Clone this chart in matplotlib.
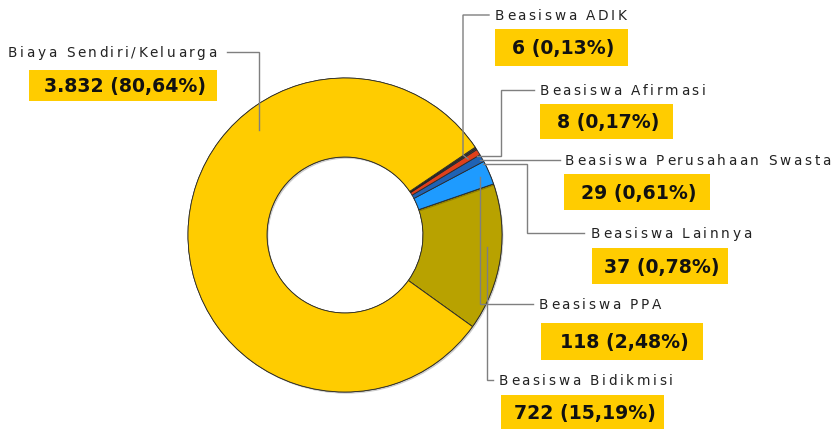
import matplotlib
matplotlib.use('Agg')
import matplotlib.pyplot as plt
import matplotlib.patheffects as pe
from matplotlib.patches import Rectangle
from matplotlib.font_manager import FontProperties

# data (counter-clockwise from the lower edge of Bidikmisi)
categories = ['Beasiswa Bidikmisi', 'Beasiswa PPA', 'Beasiswa Lainnya',
              'Beasiswa Perusahaan Swasta', 'Beasiswa Afirmasi',
              'Beasiswa ADIK', 'Biaya Sendiri/Keluarga']
counts = [722, 118, 37, 29, 8, 6, 3832]
colors = ['#B8A200', '#1E9BFF', '#1F62B4', '#E0401A', '#4A4A4A',
          '#9A9A9A', '#FFCC00']

W, H = 831, 429
YELLOW = '#FFCC00'
LINE = '#7F7F7F'


def Y(y):
    # pixel row (top origin) -> data y
    return H - y


fig = plt.figure(figsize=(W / 100, H / 100), dpi=100)
ax = fig.add_axes([0, 0, 1, 1])

# donut
wedges, _ = ax.pie(counts, colors=colors, startangle=-35.7, counterclock=True,
                   center=(345, Y(235)), radius=157,
                   wedgeprops=dict(width=79, edgecolor='#2b2b2b', linewidth=0.6))
for w, n in zip(wedges, counts):
    if n > 100:
        w.set_path_effects([pe.withSimplePatchShadow(offset=(1.0, -1.2),
                                                     shadow_rgbFace='#000000',
                                                     alpha=0.2), pe.Normal()])

ax.set_xlim(0, W)
ax.set_ylim(0, H)
ax.set_aspect('auto')
ax.axis('off')

renderer = fig.canvas.get_renderer()
lab_fp = FontProperties(family='DejaVu Sans', size=9.8)
val_fp = FontProperties(family='DejaVu Sans', size=13.6, weight='bold')


def char_width(ch, fp):
    w1 = renderer.get_text_width_height_descent('x' + ch + 'x', fp, ismath=False)[0]
    w0 = renderer.get_text_width_height_descent('xx', fp, ismath=False)[0]
    return w1 - w0


def spaced_text(x, y, s, spacing=2.6):
    # letter-spaced label, y is the vertical middle of capitals
    cx = x
    for ch in s:
        if ch != ' ':
            ax.text(cx, Y(y + 5), ch, fontproperties=lab_fp, color='#222222',
                    ha='left', va='baseline')
        cx += char_width(ch, lab_fp) + spacing


# label anchors: text left/middle, value box (x0, y0, x1, y1), leader polyline
layout = {
    'Biaya Sendiri/Keluarga': ((8, 52), (29, 70, 217, 101),
                               [(227, 52), (259, 52), (259, 130)]),
    'Beasiswa ADIK': ((495, 15), (495, 29, 628, 66),
                      [(489, 15), (463, 15), (463, 155), (468, 159)]),
    'Beasiswa Afirmasi': ((540, 90), (540, 104, 673, 139),
                          [(534, 90), (501, 90), (501, 156), (477, 156)]),
    'Beasiswa Perusahaan Swasta': ((565, 160), (564, 174, 710, 210),
                                   [(560, 160), (480, 160)]),
    'Beasiswa Lainnya': ((591, 233), (592, 248, 728, 284),
                         [(584, 233), (527, 233), (527, 164), (483, 164)]),
    'Beasiswa PPA': ((539, 304), (541, 323, 703, 360),
                     [(533, 304), (480, 304), (480, 177)]),
    'Beasiswa Bidikmisi': ((499, 380), (501, 395, 664, 433),
                           [(493, 380), (487, 380), (487, 247)]),
}

total = sum(counts)
for name, n in zip(categories, counts):
    (tx, ty), (x0, y0, x1, y1), pts = layout[name]
    xs = [p[0] for p in pts]
    ys = [Y(p[1]) for p in pts]
    ax.plot(xs, ys, color=LINE, lw=1.0, solid_joinstyle='miter')
    spaced_text(tx, ty, name)
    ax.add_patch(Rectangle((x0, Y(y1)), x1 - x0, y1 - y0, facecolor=YELLOW,
                           edgecolor='none'))
    pct = f'{100 * n / total:.2f}'.replace('.', ',')
    num = f'{n:,}'.replace(',', '.')
    ax.text((x0 + x1) / 2 + 2, Y((y0 + min(y1, 429)) / 2 + 1), f'{num} ({pct}%)',
            fontproperties=val_fp, color='#111111', ha='center', va='center')

fig.savefig('out.png', dpi=100)
